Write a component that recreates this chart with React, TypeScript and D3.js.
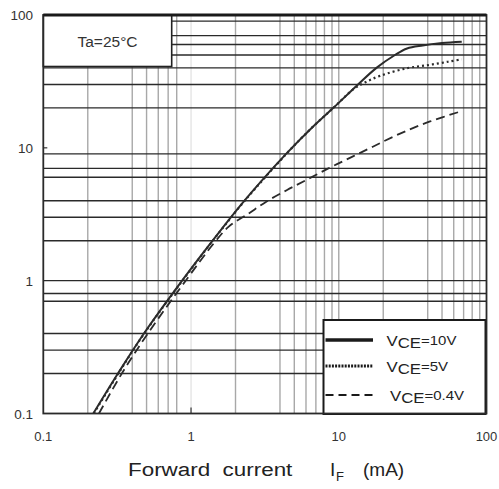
import * as d3 from 'd3';
import React from 'react';

// forward current (mA) vs collector current (mA)
const if10V = [0.218, 0.32, 0.48, 0.87, 1.4, 2.3, 4.4, 6.5, 9.2, 13.5, 18, 24, 29, 37, 50, 68];
const ic10V = [0.1, 0.2, 0.4, 1, 2, 4, 9, 14, 20, 30, 40, 50, 56, 59, 61.5, 63];

const if5V = [0.22, 0.322, 0.482, 0.875, 1.405, 2.31, 4.42, 6.5, 9.2, 12.5, 15, 19, 28.8, 40.5, 55, 68];
const ic5V = [0.1, 0.2, 0.4, 1, 2, 4, 9, 14, 20, 27.5, 31, 34.8, 39.7, 42, 44.5, 46.4];

const if04V = [0.238, 0.34, 0.51, 0.92, 1.42, 1.8, 2.45, 3.25, 4.44, 6.07, 8.5, 11.9, 17, 26, 41.5, 68];
const ic04V = [0.1, 0.2, 0.4, 1, 1.9, 2.55, 3.2, 3.95, 4.8, 5.75, 7.0, 8.4, 10.2, 12.8, 15.8, 18.9];

// gridlines as they appear on the datasheet scan (some are missing there)
const vGrid = [0.2, 0.4, 0.5, 0.6, 0.7, 0.8, 2, 4, 5, 6, 7, 8, 9, 10, 20, 40, 50, 60, 70, 80, 90];
const vGridFaint = [1];
const hGrid = [90, 70, 60, 50, 40, 30, 20, 9, 7, 6, 4, 3, 2, 1, 0.8, 0.7, 0.4, 0.3, 0.2];

const tickValues = [0.1, 1, 10, 100];
const tickLabels = ['0.1', '1', '10', '100'];

const legendNames = ['=10V', '=5V', '=0.4V'];

const W = 499;
const H = 489;
const FONT = 'Liberation Sans, Arial, sans-serif';

export default function App() {
  const x = d3.scaleLog().domain([0.1, 100]).range([43.3, 486.5]);
  const y = d3.scaleLog().domain([0.1, 100]).range([413.5, 15]);

  const line = d3.line<[number, number]>()
    .x(d => x(d[0]))
    .y(d => y(d[1]))
    .curve(d3.curveCatmullRom.alpha(0.5));

  const series = [
    { xs: if10V, ys: ic10V, dash: null, width: 2 },
    { xs: if5V, ys: ic5V, dash: '2,3', width: 2.2 },
    { xs: if04V, ys: ic04V, dash: '9,5', width: 1.8 },
  ];

  const [x0, x1] = x.range();
  const [y0, y1] = y.range();

  // legend box
  const lg = { x: 323.5, y: 320, w: 162, h: 94 };
  const rowY = [340, 366, 395];
  const legendStyle = [
    { dash: null, width: 3.5 },
    { dash: '2,1.2', width: 3 },
    { dash: '8,5', width: 1.8 },
  ];

  return (
    <svg width={W} height={H} style={{ position: 'absolute', left: 0, top: 0, background: '#fff' }}
      fontFamily={FONT}>
      <rect x={0} y={0} width={W} height={H} fill="#fff" />

      {/* vertical grid (gray) */}
      {vGrid.map(v => (
        <line key={'v' + v} x1={x(v)} x2={x(v)} y1={y1} y2={y0} stroke="#a8a8a8" strokeWidth={1.4} />
      ))}
      {vGridFaint.map(v => (
        <line key={'vf' + v} x1={x(v)} x2={x(v)} y1={y1} y2={y0} stroke="#dadada" strokeWidth={1} />
      ))}

      {/* horizontal grid (dark) */}
      {hGrid.map(v => (
        <line key={'h' + v} x1={x0} x2={x1} y1={y(v)} y2={y(v)} stroke="#2a2a2a" strokeWidth={1.4} />
      ))}

      {/* small ticks */}
      <line x1={x0} x2={x0 + 4} y1={y(10)} y2={y(10)} stroke="#333" strokeWidth={1.2} />
      <line x1={x(1)} x2={x(1)} y1={y0} y2={y0 - 6} stroke="#333" strokeWidth={1.2} />

      {/* Ta box */}
      <rect x={x0} y={y1} width={171.7 - x0} height={66.5 - y1} fill="#fff" stroke="#222" strokeWidth={1.6} />
      <text x={107.5} y={46.5} fontSize={15.5} textAnchor="middle" fill="#333">Ta=25°C</text>

      {/* curves */}
      {series.map((s, i) => (
        <path key={i}
          d={line(s.xs.map((v, j) => [v, s.ys[j]] as [number, number])) || ''}
          fill="none" stroke="#2b2b2b" strokeWidth={s.width}
          strokeDasharray={s.dash || undefined} />
      ))}

      {/* legend */}
      <rect x={lg.x} y={lg.y} width={lg.w} height={lg.h} fill="#fff" stroke="#1a1a1a" strokeWidth={2} />
      {legendNames.map((name, i) => (
        <g key={name}>
          <line x1={lg.x + 2} x2={373} y1={rowY[i]} y2={rowY[i]} stroke="#1a1a1a"
            strokeWidth={legendStyle[i].width} strokeDasharray={legendStyle[i].dash || undefined} />
          <g transform={`translate(${i === 2 ? 390 : 386.5},${rowY[i] + 6}) scale(1.2,1)`}>
            <text x={0} y={0} fill="#222">
              <tspan fontSize={14}>V</tspan>
              <tspan fontSize={14} dy={2}>CE</tspan>
              <tspan fontSize={12.5} dy={-3.5}>{name}</tspan>
            </text>
          </g>
        </g>
      ))}

      {/* plot frame */}
      <rect x={x0} y={y1} width={x1 - x0} height={y0 - y1} fill="none" stroke="#2a2a2a" strokeWidth={1.8} />
      <line x1={x0} x2={x1} y1={y1} y2={y1} stroke="#1a1a1a" strokeWidth={3} />

      {/* tick labels */}
      {tickValues.map((v, i) => (
        <text key={'yl' + v} x={33} y={y(v) + 5} fontSize={13.5} textAnchor="end" fill="#333">{tickLabels[i]}</text>
      ))}
      {tickValues.map((v, i) => (
        <text key={'xl' + v} x={x(v)} y={441} fontSize={13} textAnchor="middle" fill="#333">{tickLabels[i]}</text>
      ))}

      {/* axis title */}
      <g transform="translate(128,476) scale(1.18,1)">
        <text x={0} y={0} fontSize={19} fill="#222" style={{ whiteSpace: 'pre' }}>
          {'Forward  current'}
        </text>
      </g>
      <text x={330} y={476} fontSize={19} fill="#222">I</text>
      <text x={336} y={481} fontSize={13} fill="#222">F</text>
      <text x={363} y={476} fontSize={19} fill="#222">(mA)</text>
    </svg>
  );
}
